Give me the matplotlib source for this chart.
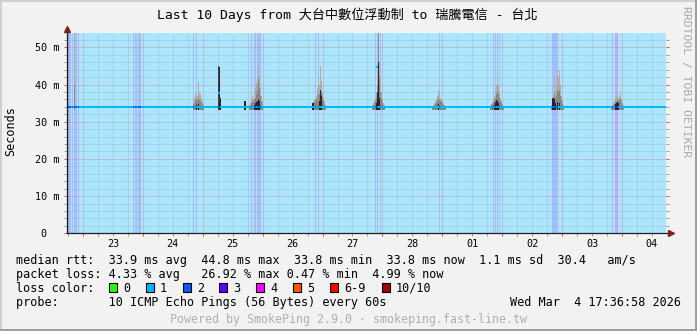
import matplotlib
matplotlib.use("Agg")
import matplotlib.pyplot as plt
import matplotlib.dates as mdates
import pandas as pd
from matplotlib.patches import Rectangle
from matplotlib.ticker import MultipleLocator, FuncFormatter, NullLocator

W, H = 697, 331
MONO = ["DejaVu Sans Mono", "Noto Sans CJK TC"]

# ---- values ----
t_start = "2026-02-22 17:36:58"
t_end = "2026-03-04 17:36:58"

# median rtt (ms) as flat pieces
median_from = ["2026-02-22 17:36", "2026-02-25 06:00", "2026-02-25 06:48",
               "2026-02-27 21:36", "2026-02-27 22:24"]
median_to = ["2026-02-25 06:00", "2026-02-25 06:48", "2026-02-27 21:36",
             "2026-02-27 22:24", "2026-03-04 17:37"]
median_v = [33.9, 37.8, 33.9, 44.8, 33.9]

# periods with more than 1/10 lost pings
loss_start = ["2026-02-22 18:12", "2026-02-22 19:36", "2026-02-22 20:36", "2026-02-22 22:00",
              "2026-02-23 20:00", "2026-02-23 21:00", "2026-02-23 22:12",
              "2026-02-24 20:12", "2026-02-24 21:24",
              "2026-02-25 19:24", "2026-02-25 20:24", "2026-02-25 21:48",
              "2026-02-26 20:48", "2026-02-26 22:00",
              "2026-02-27 21:12", "2026-02-27 22:00", "2026-02-27 23:00",
              "2026-02-28 22:48",
              "2026-03-01 20:24", "2026-03-01 21:12", "2026-03-01 22:00", "2026-03-01 22:48",
              "2026-03-02 20:00",
              "2026-03-03 20:00", "2026-03-03 21:00"]
loss_minutes = [60, 36, 60, 24, 24, 48, 60, 24, 24, 24, 48, 84, 36, 36,
                24, 24, 36, 24, 24, 24, 24, 24, 144, 24, 84]
loss_count = [2, 2, 2, 2, 2, 2, 2, 2, 2, 2, 2, 2, 2, 2,
              2, 2, 2, 2, 2, 2, 2, 2, 2, 2, 3]

# smoke (ping spread), one 24 min sample per entry
smoke_start = ["2026-02-22 20:48", "2026-02-24 20:24", "2026-02-25 06:24", "2026-02-25 16:48",
               "2026-02-25 18:48", "2026-02-26 20:00", "2026-02-27 20:00", "2026-02-28 20:00",
               "2026-03-01 19:12", "2026-03-02 19:36", "2026-03-03 19:36"]
smoke_max = [
    [54.5],
    [35.5, 36.5, 37.5, 38.5, 37.0, 40.8, 38.0, 37.5, 36.5, 35.5, 34.8],
    [45.1, 44.8, 36.5],
    [35.7, 35.7],
    [34.5, 35.2, 36.2, 37.0, 36.0, 38.0, 39.0, 40.5, 42.0, 45.4, 42.0, 39.0, 37.0, 35.5],
    [35.0, 35.5, 36.0, 36.5, 37.0, 39.0, 42.2, 40.0, 45.1, 41.0, 38.0, 36.5, 35.5, 34.5],
    [34.5, 35.0, 35.5, 36.5, 38.0, 44.0, 54.5, 46.0, 41.0, 38.0, 36.0, 35.0, 34.5],
    [34.3, 34.6, 35.0, 35.5, 36.0, 37.0, 38.6, 37.5, 36.5, 36.0, 35.5, 35.0, 34.6, 34.3],
    [34.3, 34.8, 35.3, 36.0, 37.0, 38.5, 40.0, 41.8, 40.0, 38.0, 36.5, 35.5, 34.8, 34.3],
    [34.5, 35.5, 37.0, 41.4, 38.0, 40.0, 44.1, 42.0, 44.0, 40.0, 37.0, 35.5, 34.5],
    [34.3, 34.6, 35.0, 35.5, 36.5, 37.0, 37.8, 36.5, 37.0, 38.2, 36.0, 35.0, 34.4],
]
smoke_mid = [
    [40.0],
    [34.8, 35.0, 35.5, 36.0, 35.5, 36.5, 35.8, 35.5, 35.0, 34.6, 34.3],
    [45.1, 44.8, 36.5],
    [35.7, 35.7],
    [34.2, 34.5, 35.0, 35.5, 35.2, 36.0, 36.5, 37.5, 38.5, 41.4, 39.0, 37.0, 35.5, 34.5],
    [34.5, 35.0, 35.2, 35.5, 35.8, 36.5, 37.5, 37.5, 38.6, 38.0, 36.5, 35.5, 34.8, 34.2],
    [34.2, 34.5, 35.0, 35.5, 36.5, 40.0, 54.5, 42.0, 38.0, 36.0, 35.0, 34.5, 34.2],
    [34.1, 34.3, 34.5, 34.8, 35.0, 35.5, 36.3, 35.8, 35.5, 35.2, 34.8, 34.5, 34.3, 34.1],
    [34.1, 34.4, 34.8, 35.3, 35.8, 36.5, 37.5, 38.2, 37.5, 36.5, 35.5, 35.0, 34.5, 34.1],
    [34.2, 34.8, 35.5, 37.5, 36.5, 37.0, 38.5, 38.0, 38.5, 37.0, 35.8, 34.8, 34.2],
    [34.1, 34.3, 34.5, 34.8, 35.2, 35.5, 36.0, 35.5, 35.8, 36.2, 35.2, 34.6, 34.2],
]
smoke_dark = [
    [0],
    [0, 0, 0, 34.6, 0, 34.8, 0, 0, 0, 0, 0],
    [45.1, 44.8, 36.5],
    [35.7, 35.7],
    [0, 0, 0, 0, 0, 34.6, 35.0, 35.2, 35.5, 36.0, 35.5, 0, 0, 0],
    [35.1, 35.1, 0, 0, 0, 0, 0, 35.5, 38.6, 37.0, 0, 0, 0, 0],
    [0, 0, 0, 0, 35.0, 38.0, 46.0, 36.5, 0, 0, 0, 0, 0],
    [0, 0, 0, 0, 0, 0, 34.8, 0, 0, 0, 0, 0, 0, 0],
    [0, 0, 0, 0, 34.6, 35.2, 35.8, 35.5, 35.0, 0, 0, 0, 0, 0],
    [0, 36.5, 36.5, 36.0, 35.0, 0, 35.2, 0, 35.0, 0, 0, 0, 0],
    [0, 0, 0, 0, 34.8, 35.0, 35.2, 35.0, 0, 0, 0, 0, 0],
]
smoke_floor = 33.2

legend_labels = ["0", "1", "2", "3", "4", "5", "6-9", "10/10"]
legend_colors = ["#26ff00", "#00b8ff", "#0059ff", "#5e00ff", "#ff00ff", "#ff5500", "#ff0000", "#a10000"]

row_rtt = "median rtt:  33.9 ms avg  44.8 ms max  33.8 ms min  33.8 ms now  1.1 ms sd  30.4   am/s"
row_loss = "packet loss: 4.33 % avg   26.92 % max 0.47 % min  4.99 % now"
row_probe = "probe:       10 ICMP Echo Pings (56 Bytes) every 60s"
stamp = "Wed Mar  4 17:36:58 2026"
title = "Last 10 Days from 大台中數位浮動制 to 瑞騰電信 - 台北"
footer = "Powered by SmokePing 2.9.0 · smokeping.fast-line.tw"

# loss bar backgrounds and median line colours
loss_bg = {1: "#abe6fe", 2: "#a6bdfc", 3: "#c4a8fc"}
loss_line = {1: "#00b8ff", 2: "#0059ff", 3: "#5e00ff"}
smoke_cols = ["#b2ada8", "#878787", "#262626"]


def fx(x):
    return x / W


def fy(y):
    return 1 - y / H


fig = plt.figure(figsize=(W / 100, H / 100), dpi=100, facecolor="#f2f2f2")
ax = fig.add_axes([fx(67), fy(233.3), 599 / W, 200.3 / H])
ax.set_facecolor(loss_bg[1])

x0 = mdates.date2num(pd.Timestamp(t_start))
x1 = mdates.date2num(pd.Timestamp(t_end))
step_days = 24 / 1440

# loss bands
for s, m, n in zip(loss_start, loss_minutes, loss_count):
    a = pd.Timestamp(s)
    ax.axvspan(a, a + pd.Timedelta(minutes=m), color=loss_bg[n], lw=0, zorder=0.5,
               antialiased=False)

# smoke
for s, hi, mid, dk in zip(smoke_start, smoke_max, smoke_mid, smoke_dark):
    ts = mdates.date2num(pd.date_range(s, periods=len(hi), freq="24min"))
    for vals, col in zip((hi, mid, dk), smoke_cols):
        for t, v in zip(ts, vals):
            if v > smoke_floor:
                ax.bar(t, v - smoke_floor, bottom=smoke_floor, width=step_days * 1.05,
                       color=col, lw=0, zorder=1, antialiased=False)

# median line, coloured by loss
ax.hlines(median_v, pd.to_datetime(median_from), pd.to_datetime(median_to),
          color=loss_line[1], lw=1.44, zorder=3)
for s, m, n in zip(loss_start, loss_minutes, loss_count):
    a = pd.Timestamp(s)
    ax.hlines(median_v[0], a, a + pd.Timedelta(minutes=m), color=loss_line[n], lw=1.44, zorder=3.1)

ax.set_xlim(x0, x1)
ax.set_ylim(0, 53.85)

# grid
ax.set_axisbelow(False)
ax.yaxis.set_major_locator(MultipleLocator(10))
ax.yaxis.set_minor_locator(MultipleLocator(2))
ax.xaxis.set_major_locator(mdates.DayLocator())
ax.xaxis.set_minor_locator(mdates.HourLocator(byhour=[0, 6, 12, 18]))
ax.xaxis.set_major_formatter(FuncFormatter(lambda v, p: ""))
ax.grid(which="minor", color="#8f8f8f", alpha=0.45, lw=0.72, ls=(0, (1, 1)), zorder=2)
ax.grid(which="major", color="#de4f4f", alpha=0.5, lw=0.72, ls=(0, (1, 1)), zorder=2)

ax.yaxis.set_major_formatter(FuncFormatter(lambda v, p: "0  " if v == 0 else f"{int(v)} m"))
ax.tick_params(axis="y", which="both", direction="out", length=2, width=0.72,
               right=True, labelsize=7.3, pad=3.2)
ax.tick_params(axis="y", which="major", color="#de4f4f")
ax.tick_params(axis="y", which="minor", color="#a0a0a0")
ax.tick_params(axis="x", which="both", direction="out", length=2, width=0.72)
ax.tick_params(axis="x", which="major", color="#de4f4f")
ax.tick_params(axis="x", which="minor", color="#a0a0a0")
for lab in ax.get_yticklabels():
    lab.set_family(MONO)

for sp in ("top", "right", "left", "bottom"):
    ax.spines[sp].set_visible(False)
ax.plot([0, 0], [0, 1.02], transform=ax.transAxes, color="#1f1f1f", lw=0.9, clip_on=False, zorder=5)
ax.plot([0, 1.008], [0, 0], transform=ax.transAxes, color="#1f1f1f", lw=0.9, clip_on=False, zorder=5)
ax.plot([0], [1.02], transform=ax.transAxes, marker="^", ms=4.5, color="#801f1f", clip_on=False, zorder=6)
ax.plot([1.008], [0], transform=ax.transAxes, marker=">", ms=4.5, color="#801f1f", clip_on=False, zorder=6)

# day labels at noon
sec = ax.secondary_xaxis("bottom")
sec.xaxis.set_major_locator(mdates.HourLocator(byhour=12))
sec.xaxis.set_major_formatter(mdates.DateFormatter("%d"))
sec.xaxis.set_minor_locator(NullLocator())
sec.tick_params(length=0, pad=4.2, labelsize=7.3)
sec.spines["bottom"].set_visible(False)
for lab in sec.get_xticklabels():
    lab.set_family(MONO)

# texts
fig.text(fx(347.5), fy(19.5), title, family=MONO, fontsize=9.45, ha="center", va="baseline")
fig.text(fx(10.5), fy(131), "Seconds", family=MONO, fontsize=8.5, rotation=90, ha="center", va="center")
fig.text(fx(686.5), fy(81.5), "RRDTOOL / TOBI OETIKER", family=MONO, fontsize=8.2,
         rotation=270, ha="center", va="center", color="#a8a8a8")

fig.text(fx(16), fy(263.6), row_rtt, family=MONO, fontsize=8.5, va="baseline")
fig.text(fx(16), fy(277.6), row_loss, family=MONO, fontsize=8.5, va="baseline")
fig.text(fx(16), fy(291.6), "loss color:", family=MONO, fontsize=8.5, va="baseline")
box_x = [108.7, 145.7, 182.7, 219.3, 256.0, 292.7, 330.0, 381.7]
for bx, lab, col in zip(box_x, legend_labels, legend_colors):
    fig.add_artist(Rectangle((fx(bx), fy(291.7)), 8 / W, 8.4 / H, transform=fig.transFigure,
                             facecolor=col, edgecolor="black", lw=0.8))
    fig.text(fx(bx + 14.3), fy(291.6), lab, family=MONO, fontsize=8.5, va="baseline")
fig.text(fx(16), fy(306), row_probe, family=MONO, fontsize=8.5, va="baseline")
fig.text(fx(681), fy(306), stamp, family=MONO, fontsize=8.5, va="baseline", ha="right")
fig.text(fx(348.5), fy(322.5), footer, family=MONO, fontsize=8.4, va="baseline", ha="center",
         color="#b0b0b0")

# frame
fig.add_artist(Rectangle((0, fy(2)), 1, 2 / H, transform=fig.transFigure, color="#cfcfcf", lw=0))
fig.add_artist(Rectangle((0, 0), 2 / W, 1, transform=fig.transFigure, color="#cfcfcf", lw=0))
fig.add_artist(Rectangle((0, 0), 1, 2 / H, transform=fig.transFigure, color="#9e9e9e", lw=0))
fig.add_artist(Rectangle((fx(695), 0), 2 / W, 1, transform=fig.transFigure, color="#9e9e9e", lw=0))

fig.savefig("out.png", dpi=100, facecolor=fig.get_facecolor())
